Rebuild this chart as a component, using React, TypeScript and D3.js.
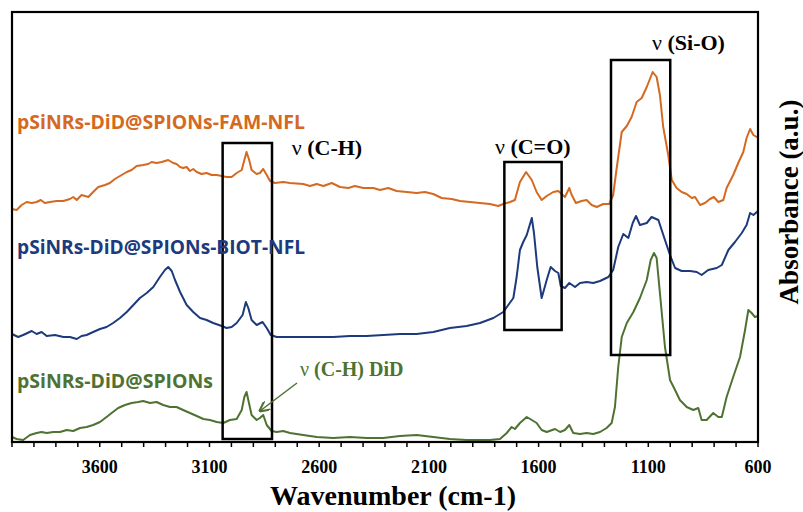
import React from "react";
import * as d3 from "d3";

// ---------- data (wavenumber cm-1, absorbance a.u.) ----------
const famWn = [4000,3979,3956,3933,3910,3888,3869,3850,3827,3797,3766,3736,3721,3705,3683,3652,3630,3607,3576,3554,3531,3508,3477,3455,3432,3402,3379,3364,3341,3318,3288,3265,3250,3234,3220,3204,3189,3174,3158,3136,3113,3090,3067,3044,3022,2999,2976,2953,2941,2931,2919,2908,2885,2870,2855,2839,2824,2802,2764,2733,2673,2642,2611,2581,2543,2505,2467,2437,2399,2353,2323,2285,2247,2201,2156,2118,2080,2042,1996,1958,1913,1867,1822,1784,1761,1730,1708,1685,1657,1631,1609,1586,1563,1533,1510,1495,1480,1460,1449,1430,1404,1381,1358,1335,1305,1278,1260,1244,1221,1198,1176,1153,1130,1107,1080,1062,1047,1032,1009,993,971,948,925,902,887,864,842,819,801,781,758,743,713,690,667,652,636,621,606,600];
const famAbs = [2.33,2.32,2.37,2.40,2.39,2.40,2.42,2.39,2.40,2.41,2.41,2.43,2.45,2.42,2.47,2.45,2.50,2.55,2.57,2.59,2.63,2.66,2.70,2.72,2.76,2.77,2.78,2.80,2.79,2.80,2.82,2.79,2.78,2.75,2.74,2.75,2.71,2.73,2.70,2.68,2.69,2.67,2.67,2.66,2.65,2.65,2.69,2.72,2.82,2.90,2.82,2.72,2.68,2.69,2.73,2.67,2.61,2.59,2.60,2.59,2.58,2.56,2.58,2.56,2.59,2.55,2.54,2.56,2.54,2.54,2.52,2.54,2.51,2.50,2.49,2.50,2.48,2.44,2.43,2.41,2.40,2.39,2.38,2.36,2.38,2.40,2.42,2.60,2.70,2.62,2.50,2.42,2.46,2.50,2.51,2.48,2.45,2.54,2.47,2.39,2.41,2.42,2.37,2.35,2.38,2.38,2.47,2.74,3.10,3.16,3.25,3.40,3.44,3.55,3.70,3.65,3.47,3.15,2.87,2.62,2.54,2.50,2.48,2.44,2.45,2.37,2.39,2.43,2.45,2.40,2.42,2.54,2.67,2.79,2.90,3.04,3.13,3.07,3.05,3.05];

const biotWn = [4000,3972,3949,3910,3888,3865,3842,3804,3766,3736,3705,3683,3660,3630,3599,3569,3539,3508,3477,3447,3417,3386,3356,3326,3303,3288,3272,3257,3234,3204,3174,3143,3113,3083,3044,3022,2999,2976,2949,2934,2923,2908,2885,2858,2839,2821,2794,2748,2688,2611,2536,2460,2384,2308,2232,2156,2080,2004,1928,1867,1806,1761,1738,1715,1700,1685,1670,1654,1631,1621,1606,1586,1563,1545,1525,1510,1499,1480,1460,1434,1411,1381,1351,1320,1282,1260,1237,1214,1191,1171,1156,1138,1107,1085,1054,1024,1001,978,948,910,879,857,827,788,765,735,705,674,652,636,621,600];
const biotAbs = [1.08,1.05,1.07,1.11,1.08,1.10,1.06,1.07,1.05,1.05,1.03,1.06,1.07,1.10,1.13,1.15,1.19,1.24,1.30,1.37,1.44,1.49,1.55,1.65,1.72,1.75,1.71,1.62,1.50,1.37,1.30,1.24,1.22,1.19,1.16,1.14,1.15,1.19,1.27,1.40,1.34,1.22,1.17,1.20,1.14,1.07,1.05,1.05,1.05,1.05,1.05,1.06,1.06,1.07,1.08,1.08,1.10,1.14,1.16,1.19,1.24,1.30,1.37,1.44,1.65,1.92,2.00,2.07,2.24,2.09,1.75,1.44,1.62,1.75,1.71,1.69,1.56,1.54,1.59,1.55,1.59,1.60,1.59,1.61,1.65,1.72,1.95,2.08,2.04,2.19,2.26,2.17,2.19,2.25,2.22,2.02,1.87,1.74,1.71,1.71,1.70,1.67,1.72,1.74,1.77,1.92,2.00,2.09,2.17,2.29,2.27,2.31];

const didWn = [4000,3979,3949,3918,3888,3865,3842,3812,3781,3751,3721,3690,3660,3630,3599,3569,3546,3516,3485,3455,3425,3402,3371,3341,3311,3280,3250,3220,3189,3158,3128,3098,3067,3037,3007,2976,2953,2941,2931,2920,2908,2885,2870,2855,2839,2817,2794,2764,2733,2703,2673,2642,2611,2536,2460,2384,2308,2232,2156,2080,2004,1928,1852,1822,1776,1745,1723,1708,1685,1654,1631,1609,1586,1563,1525,1502,1480,1460,1442,1411,1381,1351,1320,1290,1267,1252,1237,1221,1198,1168,1138,1107,1089,1074,1062,1047,1024,1001,978,956,925,895,872,857,834,804,781,765,743,713,682,659,644,629,614,600];
const didAbs = [0.05,0.03,0.02,0.07,0.09,0.10,0.09,0.10,0.10,0.12,0.11,0.14,0.15,0.17,0.20,0.25,0.29,0.34,0.37,0.39,0.40,0.41,0.39,0.40,0.37,0.35,0.35,0.32,0.29,0.26,0.23,0.22,0.20,0.19,0.22,0.23,0.32,0.45,0.50,0.39,0.27,0.22,0.24,0.27,0.17,0.11,0.10,0.11,0.09,0.08,0.07,0.06,0.05,0.04,0.05,0.04,0.04,0.06,0.07,0.05,0.03,0.02,0.02,0.02,0.03,0.09,0.15,0.13,0.19,0.25,0.22,0.19,0.12,0.10,0.13,0.10,0.12,0.17,0.09,0.08,0.09,0.08,0.10,0.14,0.19,0.35,0.75,1.05,1.19,1.30,1.44,1.62,1.82,1.89,1.84,1.49,0.95,0.62,0.52,0.42,0.35,0.32,0.34,0.22,0.22,0.29,0.25,0.25,0.45,0.65,0.85,1.12,1.32,1.29,1.25,1.26];

const seriesNames = ["pSiNRs-DiD@SPIONs-FAM-NFL", "pSiNRs-DiD@SPIONs-BIOT-NFL", "pSiNRs-DiD@SPIONs"];
const tickValues = [3600, 3100, 2600, 2100, 1600, 1100, 600];

// annotation boxes: [wn high, wn low, abs top, abs bottom]
const boxLabels = ["ν (C-H)", "ν (C=O)", "ν (Si-O)"];
const boxWnHigh = [3040, 1756, 1270];
const boxWnLow = [2815, 1495, 1000];
const boxAbsTop = [2.99, 2.80, 3.82];
const boxAbsBottom = [0.03, 1.12, 0.87];

const W = 803, H = 512;
const M = { left: 12, right: 758, top: 12, bottom: 442 };

const COLORS = ["#D4691F", "#1D3A7C", "#4E7232"];

export default function App() {
  const x = d3.scaleLinear().domain([4000, 600]).range([M.left, M.right]);
  const y = d3.scaleLinear().domain([0, 4.3]).range([M.bottom, M.top]);
  const line = d3.line<[number, number]>().x(d => x(d[0])).y(d => y(d[1]));
  const seriesData: [number, number][][] = [
    famWn.map((w, i) => [w, famAbs[i]]),
    biotWn.map((w, i) => [w, biotAbs[i]]),
    didWn.map((w, i) => [w, didAbs[i]]),
  ];
  const minorTicks = d3.range(4000, 599, -100);
  const serif = "'Liberation Serif', 'Times New Roman', serif";
  const sans = "'Open Sans', 'Noto Sans', sans-serif";

  const seriesLabelY = [129, 254, 388];
  const seriesLabelLen = [288, 288, 196];

  const boxLabelPos: [number, number][] = [
    [2725, 155], [1799, 154], [1083, 50],
  ];

  return (
    <svg width={W} height={H} style={{ position: "absolute", left: 0, top: 0, background: "#fff" }}>
      <rect x={0} y={0} width={W} height={H} fill="#fff" />
      {seriesData.map((s, i) => (
        <path key={i} d={line(s) || ""} fill="none" stroke={COLORS[i]} strokeWidth={2} strokeLinejoin="round" />
      ))}
      {boxLabels.map((_, i) => (
        <rect key={i}
          x={x(boxWnHigh[i])} y={y(boxAbsTop[i])}
          width={x(boxWnLow[i]) - x(boxWnHigh[i])}
          height={y(boxAbsBottom[i]) - y(boxAbsTop[i])}
          fill="none" stroke="#000" strokeWidth={2.5} />
      ))}
      <rect x={M.left} y={M.top} width={M.right - M.left} height={M.bottom - M.top} fill="none" stroke="#000" strokeWidth={2.2} />
      {minorTicks.map(t => (
        <line key={t} x1={x(t)} x2={x(t)} y1={M.bottom} y2={M.bottom + 5} stroke="#000" strokeWidth={1.5} />
      ))}
      {tickValues.map(t => (
        <text key={t} x={x(t)} y={472.5} textAnchor="middle" fontFamily={serif} fontWeight="bold" fontSize={18}>{t}</text>
      ))}
      <text x={393} y={505} textAnchor="middle" fontFamily={serif} fontWeight="bold" fontSize={28}>Wavenumber (cm-1)</text>
      <text transform={`translate(798,${202}) rotate(-90)`} textAnchor="middle" fontFamily={serif} fontWeight="bold" fontSize={27}>Absorbance (a.u.)</text>
      {seriesNames.map((n, i) => (
        <text key={n} x={17} y={seriesLabelY[i]} fill={COLORS[i]} fontFamily={sans} fontWeight="bold" fontSize={19}
          textLength={seriesLabelLen[i]} lengthAdjust="spacingAndGlyphs">{n}</text>
      ))}
      {boxLabels.map((l, i) => (
        <text key={l} x={x(boxLabelPos[i][0])} y={boxLabelPos[i][1]} fontFamily={serif} fontSize={22}>
          <tspan>{l.slice(0, 1)}</tspan><tspan fontWeight="bold">{l.slice(1)}</tspan>
        </text>
      ))}
      <text x={300} y={376} fill={COLORS[2]} fontFamily={serif} fontSize={20}>
        <tspan>ν</tspan><tspan fontWeight="bold"> (C-H) DiD</tspan>
      </text>
      <defs>
        <marker id="arr" viewBox="0 0 10 10" refX={9} refY={5} markerWidth={7} markerHeight={7} orient="auto">
          <path d="M0,0 L10,5 L0,10" fill="none" stroke={COLORS[2]} strokeWidth={2} />
        </marker>
      </defs>
      <line x1={297} y1={383} x2={x(2870)} y2={y(0.31)} stroke={COLORS[2]} strokeWidth={1.5} markerEnd="url(#arr)" />
    </svg>
  );
}
